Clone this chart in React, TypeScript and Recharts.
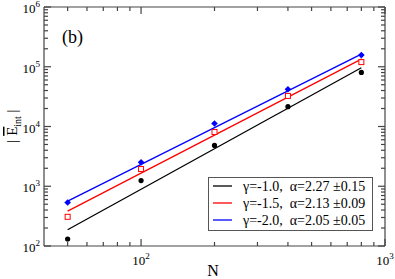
import { ComposedChart, Scatter, Line, XAxis, YAxis } from 'recharts';

const N = [50, 100, 200, 400, 800];
const BLACK = [131, 1245, 4820, 21500, 80400];
const RED = [308, 1940, 8100, 32500, 119700];
const BLUE = [535, 2510, 11200, 41900, 156700];

// fitted lines, end points
const N_FIT = [50, 800];
const BLACK_FIT = [187, 96200];
const RED_FIT = [383, 134000];
const BLUE_FIT = [562, 163000];

const X_TICKS = [50, 60, 70, 80, 90, 100, 200, 300, 400, 500, 600, 700, 800, 900, 1000];
const Y_TICKS = [
  100, 200, 300, 400, 500, 600, 700, 800, 900,
  1e3, 2e3, 3e3, 4e3, 5e3, 6e3, 7e3, 8e3, 9e3,
  1e4, 2e4, 3e4, 4e4, 5e4, 6e4, 7e4, 8e4, 9e4,
  1e5, 2e5, 3e5, 4e5, 5e5, 6e5, 7e5, 8e5, 9e5, 1e6,
];

const LEGEND_LABELS = ['γ=-1.0,  α=2.27 ±0.15', 'γ=-1.5,  α=2.13 ±0.09', 'γ=-2.0,  α=2.05 ±0.05'];
const COLORS = ['#000000', '#ff0000', '#0000ff'];

const FONT = '"Liberation Serif", "Times New Roman", serif';
const AXIS = '#444';

const toRows = (xs: number[], ys: number[]) => xs.map((n, i) => ({ n, v: ys[i] }));

const exp10 = (v: number) => {
  const e = Math.log10(v);
  return Math.abs(e - Math.round(e)) < 1e-9 ? Math.round(e) : null;
};
const tickLen = (v: number) => (exp10(v) !== null ? 7 : 4);

// ticks point into the plot, grace style
function BottomTick({ x, y, payload }: any) {
  const e = exp10(payload.value);
  const len = tickLen(payload.value);
  return (
    <g>
      <rect x={x - 0.6} y={y - len} width={1.2} height={len} fill={AXIS} />
      {e !== null && (
        <text x={x} y={y + 19} textAnchor="middle" fontSize={13} fontFamily={FONT} fill="#000">
          10<tspan dy={-6} fontSize={9}>{e}</tspan>
        </text>
      )}
    </g>
  );
}

function TopTick({ x, y, payload }: any) {
  const len = tickLen(payload.value);
  return <rect x={x - 0.6} y={y} width={1.2} height={len} fill={AXIS} />;
}

function LeftTick({ x, y, payload }: any) {
  const e = exp10(payload.value);
  const len = tickLen(payload.value);
  return (
    <g>
      <rect x={x} y={y - 0.6} width={len} height={1.2} fill={AXIS} />
      {e !== null && (
        <text x={x - 4} y={y + 6} textAnchor="end" fontSize={13} fontFamily={FONT} fill="#000">
          10<tspan dy={-6} fontSize={9}>{e}</tspan>
        </text>
      )}
    </g>
  );
}

function RightTick({ x, y, payload }: any) {
  const len = tickLen(payload.value);
  return <rect x={x - len} y={y - 0.6} width={len} height={1.2} fill={AXIS} />;
}

const circle = (p: any) => <circle cx={p.cx} cy={p.cy} r={2.6} fill="#000" />;
const square = (p: any) => (
  <rect x={p.cx - 2.5} y={p.cy - 2.5} width={5} height={5} fill="#fff" stroke="#ff0000" strokeWidth={1} />
);
const diamond = (p: any) => (
  <path
    d={`M${p.cx} ${p.cy - 3.3}L${p.cx + 3.3} ${p.cy}L${p.cx} ${p.cy + 3.3}L${p.cx - 3.3} ${p.cy}Z`}
    fill="#0000ff"
  />
);
const nothing = () => <g />;

const axisCommon = {
  type: 'number' as const,
  scale: 'log' as const,
  allowDataOverflow: true,
  interval: 0 as const,
  tickLine: false,
  tickSize: 0,
  tickMargin: 0,
  axisLine: { stroke: AXIS, strokeWidth: 1.2 },
};

export default function App() {
  return (
    <div style={{ position: 'absolute', left: 0, top: 0, width: 395, height: 279, background: '#fff' }}>
      <ComposedChart width={395} height={279} margin={{ top: 6, right: 9, bottom: 0, left: 0 }}>
        <XAxis {...axisCommon} dataKey="n" domain={[40, 1000]} ticks={X_TICKS} tick={BottomTick} height={33} />
        <XAxis {...axisCommon} xAxisId="top" dataKey="n" orientation="top" domain={[40, 1000]} ticks={X_TICKS} tick={TopTick} height={1} />
        <YAxis {...axisCommon} dataKey="v" domain={[100, 1e6]} ticks={Y_TICKS} tick={LeftTick} width={44} />
        <YAxis {...axisCommon} yAxisId="right" dataKey="v" orientation="right" domain={[100, 1e6]} ticks={Y_TICKS} tick={RightTick} width={1} />
        {/* invisible series so the mirror axes get a scale */}
        <Scatter xAxisId="top" yAxisId="right" data={toRows(N, BLACK)} dataKey="v" shape={nothing} isAnimationActive={false} />
        <Line data={toRows(N_FIT, BLACK_FIT)} dataKey="v" stroke={COLORS[0]} strokeWidth={1.3} dot={false} isAnimationActive={false} />
        <Line data={toRows(N_FIT, RED_FIT)} dataKey="v" stroke={COLORS[1]} strokeWidth={1.3} dot={false} isAnimationActive={false} />
        <Line data={toRows(N_FIT, BLUE_FIT)} dataKey="v" stroke={COLORS[2]} strokeWidth={1.3} dot={false} isAnimationActive={false} />
        <Scatter data={toRows(N, BLACK)} dataKey="v" shape={circle} isAnimationActive={false} />
        <Scatter data={toRows(N, RED)} dataKey="v" shape={square} isAnimationActive={false} />
        <Scatter data={toRows(N, BLUE)} dataKey="v" shape={diamond} isAnimationActive={false} />
      </ComposedChart>
      <svg width={395} height={279} style={{ position: 'absolute', left: 0, top: 0, pointerEvents: 'none' }}>
        <text x={62} y={43} fontSize={18} fontFamily={FONT} fill="#000">(b)</text>
        <text x={213} y={276} textAnchor="middle" fontSize={16} fontFamily={FONT} fill="#000">N</text>
        <text transform="translate(17,126) rotate(-90)" textAnchor="middle" fontSize={15} fontFamily={FONT} fill="#000">
          |  <tspan textDecoration="overline">E</tspan>
          <tspan dy={4} fontSize={10}>int</tspan>
          <tspan dy={-4}>  |</tspan>
        </text>
        <rect x={208.5} y={177.5} width={164} height={53} fill="#fff" stroke="#555" />
        {LEGEND_LABELS.map((label, i) => (
          <g key={i}>
            <line x1={213} x2={232} y1={186 + i * 17} y2={186 + i * 17} stroke={COLORS[i]} strokeWidth={1.3} />
            <text x={243} y={191 + i * 17} fontSize={14} fontFamily={FONT} fill="#000" style={{ whiteSpace: 'pre' }}>
              {label}
            </text>
          </g>
        ))}
      </svg>
    </div>
  );
}
